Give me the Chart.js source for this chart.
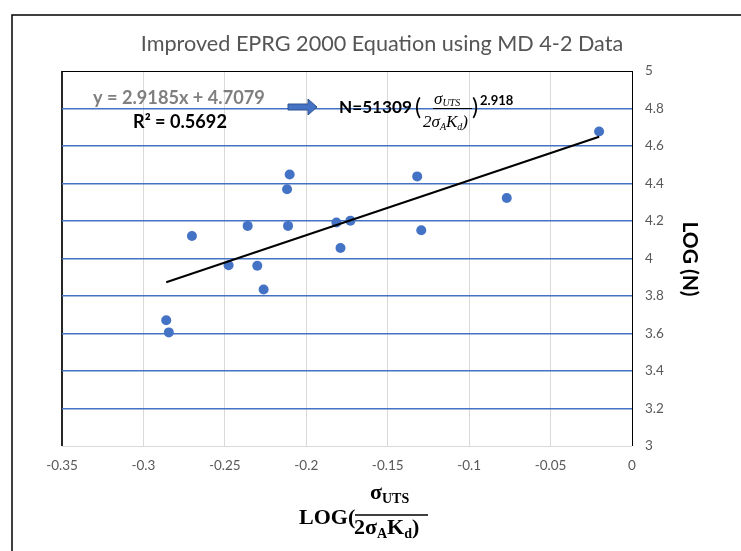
<!DOCTYPE html>
<html>
<head>
<meta charset="utf-8">
<script src="https://cdn.jsdelivr.net/npm/chart.js@4"></script>
<style>
  html, body { margin: 0; padding: 0; background: #fff; }
  canvas { display: block; }
</style>
</head>
<body>
<canvas id="chart" width="741" height="551"></canvas>
<script>
// data
const xValues = [-0.0202, -0.0769, -0.1319, -0.1294, -0.1729, -0.1815, -0.179, -0.2102, -0.2118, -0.2112, -0.236, -0.2301, -0.2477, -0.2262, -0.2702, -0.286, -0.2844];
const yValues = [4.677, 4.323, 4.438, 4.151, 4.202, 4.192, 4.056, 4.448, 4.369, 4.174, 4.174, 3.961, 3.964, 3.835, 4.120, 3.671, 3.606];
const trendX = [-0.286, -0.0202];
const trendY = [3.873, 4.649];
const xTickValues = [-0.35, -0.3, -0.25, -0.2, -0.15, -0.1, -0.05, 0];
const xTickLabels = ["-0.35", "-0.3", "-0.25", "-0.2", "-0.15", "-0.1", "-0.05", "0"];
const yTickValues = [3, 3.2, 3.4, 3.6, 3.8, 4, 4.2, 4.4, 4.6, 4.8, 5];
const yTickLabels = ["3", "3.2", "3.4", "3.6", "3.8", "4", "4.2", "4.4", "4.6", "4.8", "5"];
const chartTitle = "Improved EPRG 2000 Equation using MD 4-2 Data";
const trendEquation = "y = 2.9185x + 4.7079";
const trendR2 = "R\u00b2 = 0.5692";

const SANS = "Lato, 'Open Sans', sans-serif";
const SERIF = "'Liberation Serif', 'DejaVu Serif', serif";
const BLUE = "#4472c4";

function fitSize(ctx, text, weight, family, width) {
  ctx.font = weight + " 100px " + family;
  return 100 * width / ctx.measureText(text).width;
}

// draw a run of pieces [text, font, dy] left to right starting at x
function drawRun(ctx, x, y, pieces, color) {
  ctx.fillStyle = color;
  ctx.textAlign = "left";
  ctx.textBaseline = "alphabetic";
  pieces.forEach(p => {
    ctx.font = p[1];
    ctx.fillText(p[0], x, y + (p[2] || 0));
    x += ctx.measureText(p[0]).width;
  });
  return x;
}

const decorations = {
  id: "decorations",
  afterDraw(chart) {
    const ctx = chart.ctx;
    ctx.save();

    // outer frame
    ctx.strokeStyle = "#000";
    ctx.lineWidth = 1.5;
    ctx.beginPath();
    ctx.moveTo(12, 551);
    ctx.lineTo(12, 15);
    ctx.lineTo(741, 15);
    ctx.stroke();

    // title
    let size = fitSize(ctx, chartTitle, "normal", SANS, 483);
    ctx.font = "normal " + size + "px " + SANS;
    ctx.fillStyle = "#555555";
    ctx.textAlign = "center";
    ctx.textBaseline = "middle";
    ctx.fillText(chartTitle, 382, 44);

    // trendline label
    size = fitSize(ctx, trendEquation, "bold", SANS, 172);
    ctx.font = "bold " + size + "px " + SANS;
    ctx.fillStyle = "#7f7f7f";
    ctx.textAlign = "left";
    ctx.fillText(trendEquation, 93, 98);
    size = fitSize(ctx, trendR2, "bold", SANS, 94);
    ctx.font = "bold " + size + "px " + SANS;
    ctx.fillStyle = "#000";
    ctx.fillText(trendR2, 133, 122);

    // arrow
    ctx.fillStyle = BLUE;
    ctx.strokeStyle = "#2f528f";
    ctx.lineWidth = 1;
    ctx.beginPath();
    ctx.moveTo(288, 104);
    ctx.lineTo(308, 104);
    ctx.lineTo(308, 99);
    ctx.lineTo(317, 107);
    ctx.lineTo(308, 115);
    ctx.lineTo(308, 110);
    ctx.lineTo(288, 110);
    ctx.closePath();
    ctx.fill();
    ctx.stroke();

    // N = 51309 (sUTS / 2 sA Kd)^2.918
    size = fitSize(ctx, "N=51309", "bold", SANS, 73);
    ctx.font = "bold " + size + "px " + SANS;
    ctx.fillStyle = "#000";
    ctx.textBaseline = "middle";
    ctx.fillText("N=51309", 339, 107);
    ctx.font = "normal 23px " + SANS;
    ctx.fillText("(", 415, 108);
    ctx.fillText(")", 472, 108);
    const it = "italic 17px " + SERIF;
    const itSub = "italic 10px " + SERIF;
    drawRun(ctx, 434, 104, [["\u03c3", it], ["UTS", itSub, 2]], "#000");
    drawRun(ctx, 423, 127, [["2\u03c3", it], ["A", itSub, 3], ["K", it], ["d", itSub, 3], [")", it]], "#000");
    ctx.strokeStyle = "#000";
    ctx.lineWidth = 1;
    ctx.beginPath();
    ctx.moveTo(433, 108.5);
    ctx.lineTo(472, 108.5);
    ctx.stroke();
    ctx.font = "bold 13px " + SANS;
    ctx.textBaseline = "middle";
    ctx.fillStyle = "#000";
    ctx.fillText("2.918", 480, 101);

    // y axis title, rotated
    ctx.save();
    ctx.translate(690, 259);
    ctx.rotate(Math.PI / 2);
    size = fitSize(ctx, "LOG (N)", "bold", SANS, 75);
    ctx.font = "bold " + size + "px " + SANS;
    ctx.textAlign = "center";
    ctx.textBaseline = "middle";
    ctx.fillStyle = "#000";
    ctx.fillText("LOG (N)", 0, 0);
    ctx.restore();

    // x axis title
    const big = "bold 22px " + SERIF;
    const sub = "bold 14px " + SERIF;
    drawRun(ctx, 299, 524, [["LOG(", big]], "#000");
    drawRun(ctx, 370, 499, [["\u03c3", big], ["UTS", sub, 4]], "#000");
    drawRun(ctx, 354, 534, [["2\u03c3", big], ["A", sub, 4], ["K", big], ["d", sub, 4], [")", big]], "#000");
    ctx.strokeStyle = "#000";
    ctx.lineWidth = 1.5;
    ctx.beginPath();
    ctx.moveTo(355, 515);
    ctx.lineTo(428, 515);
    ctx.stroke();

    ctx.restore();
  }
};

function near(a, b) { return Math.abs(a - b) < 1e-6; }

new Chart(document.getElementById("chart"), {
  type: "scatter",
  data: {
    datasets: [
      {
        type: "line",
        data: trendX.map((x, i) => ({ x: x, y: trendY[i] })),
        borderColor: "#000",
        borderWidth: 2,
        pointRadius: 0,
        fill: false
      },
      {
        data: xValues.map((x, i) => ({ x: x, y: yValues[i] })),
        backgroundColor: BLUE,
        borderColor: BLUE,
        borderWidth: 0,
        pointRadius: 5
      }
    ]
  },
  options: {
    responsive: false,
    animation: false,
    devicePixelRatio: 1,
    layout: { padding: { left: 62, top: 71, right: 59, bottom: 75 } },
    plugins: { legend: { display: false }, tooltip: { enabled: false } },
    scales: {
      x: {
        type: "linear",
        position: "bottom",
        min: -0.35,
        max: 0,
        afterBuildTicks: s => { s.ticks = xTickValues.map(v => ({ value: v })); },
        afterFit: s => { s.height = 30; },
        ticks: {
          color: "#595959",
          font: { family: SANS, size: 13.5 },
          padding: 12,
          maxRotation: 0,
          callback: (v, i) => xTickLabels[i]
        },
        grid: {
          drawTicks: false,
          color: c => near(c.tick.value, -0.35) ? "#262626" : near(c.tick.value, 0) ? "#000" : "#d9d9d9",
          lineWidth: c => near(c.tick.value, -0.35) ? 2 : 1
        },
        border: { display: false }
      },
      y: {
        type: "linear",
        position: "right",
        min: 3,
        max: 5,
        afterBuildTicks: s => { s.ticks = yTickValues.map(v => ({ value: v })); },
        afterFit: s => { s.width = 50; },
        ticks: {
          color: "#595959",
          font: { family: SANS, size: 13.5 },
          padding: 13,
          callback: (v, i) => yTickLabels[i]
        },
        grid: {
          drawTicks: false,
          color: c => near(c.tick.value, 5) ? "#000" : near(c.tick.value, 3) ? "#d9d9d9" : BLUE,
          lineWidth: c => near(c.tick.value, 5) || near(c.tick.value, 3) ? 1 : 1.5
        },
        border: { display: false }
      }
    }
  },
  plugins: [decorations]
});
</script>
</body>
</html>
